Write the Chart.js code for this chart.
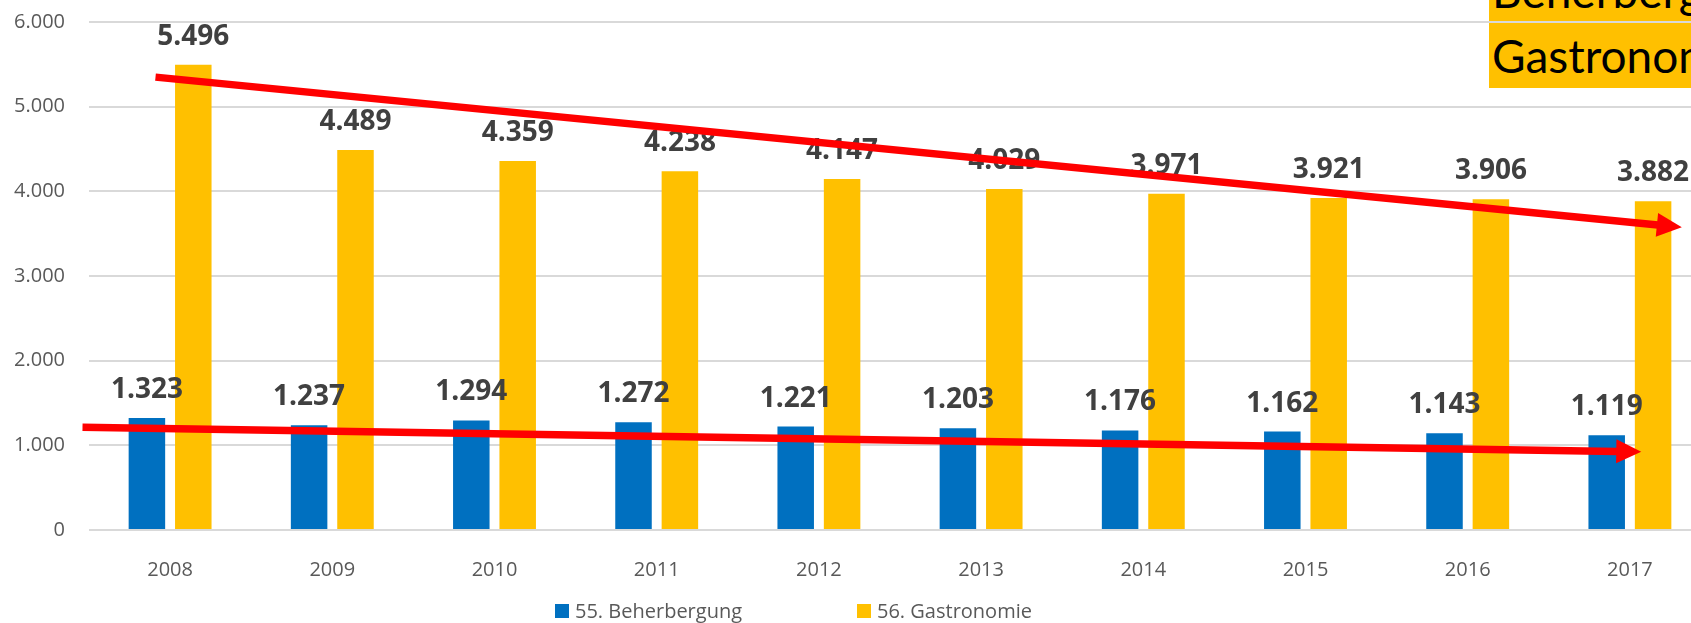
<!DOCTYPE html>
<html>
<head>
<meta charset="utf-8">
<script src="https://cdn.jsdelivr.net/npm/chart.js@4/dist/chart.umd.min.js"></script>
<style>
  html, body { margin: 0; padding: 0; background: #fff; overflow: hidden; width: 1691px; height: 623px; }
  #wrap { position: absolute; left: 0; top: -14px; width: 1720px; height: 637px; }
  .box { position: absolute; left: 1489px; width: 260px; background: #FFC000; color: #000;
         font-family: Lato, "Open Sans", sans-serif; font-size: 46px; white-space: nowrap; overflow: hidden; }
  #box1 { top: -40px; height: 61px; line-height: 61px; padding-left: 3px; box-sizing: border-box; }
  #box2 { top: 23px; height: 65px; line-height: 65px; padding-left: 3px; box-sizing: border-box; }
  .legend { position: absolute; top: 597px; font-family: "Open Sans", sans-serif; font-size: 20px; color: #595959;
            line-height: 28px; white-space: nowrap; }
  .legend i { position: absolute; left: 0; top: 7px; width: 14px; height: 14px; }
  .legend span { position: absolute; left: 20px; top: 0; }
</style>
</head>
<body>
<div id="wrap"><canvas id="chart" width="1720" height="637"></canvas></div>
<div class="box" id="box1">Beherbergung</div>
<div class="box" id="box2">Gastronomie</div>
<div class="legend" style="left:555px"><i style="background:#0070C0"></i><span>55. Beherbergung</span></div>
<div class="legend" style="left:857px"><i style="background:#FFC000"></i><span>56. Gastronomie</span></div>
<script>
/* Beherbergung / Gastronomie 2008–2017 — grouped bars with trend arrows */

const YEARS = ['2008', '2009', '2010', '2011', '2012', '2013', '2014', '2015', '2016', '2017'];
const BEHERBERGUNG = [1323, 1237, 1294, 1272, 1221, 1203, 1176, 1162, 1143, 1119];
const GASTRONOMIE = [5496, 4489, 4359, 4238, 4147, 4029, 3971, 3921, 3906, 3882];
const Y_TICKS = [0, 1000, 2000, 3000, 4000, 5000, 6000];

// trend arrows, in chart units (category index, value)
const TREND_GASTRO_X = [-0.09, 9.32];
const TREND_GASTRO_Y = [5349, 3575];
const TREND_BEHER_X = [-0.54, 9.07];
const TREND_BEHER_Y = [1215, 924];

const FONT = '"Open Sans", sans-serif';
const TICK = '#595959';
const GRID = '#d9d9d9';

const fmt = (v) => String(Math.round(v)).replace(/\B(?=(\d{3})+(?!\d))/g, '.');

const valueLabels = {
  id: 'valueLabels',
  afterDatasetsDraw(chart) {
    const ctx = chart.ctx;
    ctx.save();
    ctx.font = 'bold 28px ' + FONT;
    ctx.fillStyle = '#404040';
    ctx.textAlign = 'center';
    ctx.textBaseline = 'alphabetic';
    chart.data.datasets.forEach((ds, i) => {
      chart.getDatasetMeta(i).data.forEach((bar, j) => {
        ctx.fillText(fmt(ds.data[j]), bar.x, bar.y - 20);
      });
    });
    ctx.restore();
  },
};

function arrow(ctx, x1, y1, x2, y2) {
  const ang = Math.atan2(y2 - y1, x2 - x1);
  const head = 25, half = 12;
  const bx = x2 - head * Math.cos(ang), by = y2 - head * Math.sin(ang);
  ctx.beginPath();
  ctx.moveTo(x1, y1);
  ctx.lineTo(bx + Math.cos(ang), by + Math.sin(ang));
  ctx.stroke();
  ctx.beginPath();
  ctx.moveTo(x2, y2);
  ctx.lineTo(bx + half * Math.sin(ang), by - half * Math.cos(ang));
  ctx.lineTo(bx - half * Math.sin(ang), by + half * Math.cos(ang));
  ctx.closePath();
  ctx.fill();
}

const trendArrows = {
  id: 'trendArrows',
  afterDraw(chart) {
    const { ctx, scales: { x, y } } = chart;
    ctx.save();
    ctx.strokeStyle = '#FF0000';
    ctx.fillStyle = '#FF0000';
    ctx.lineWidth = 7.5;
    [[TREND_GASTRO_X, TREND_GASTRO_Y], [TREND_BEHER_X, TREND_BEHER_Y]].forEach(([xs, ys]) => {
      arrow(ctx, x.getPixelForValue(xs[0]), y.getPixelForValue(ys[0]),
                 x.getPixelForValue(xs[1]), y.getPixelForValue(ys[1]));
    });
    ctx.restore();
  },
};

new Chart(document.getElementById('chart'), {
  type: 'bar',
  data: {
    labels: YEARS,
    datasets: [
      { label: '55. Beherbergung', data: BEHERBERGUNG, backgroundColor: '#0070C0' },
      { label: '56. Gastronomie', data: GASTRONOMIE, backgroundColor: '#FFC000' },
    ],
  },
  options: {
    responsive: false,
    animation: false,
    categoryPercentage: 0.572,
    barPercentage: 0.787,
    layout: { padding: { left: 0, right: 9, top: 7, bottom: 0 } },
    plugins: { legend: { display: false }, tooltip: { enabled: false } },
    scales: {
      x: {
        grid: { display: false },
        border: { display: false },
        ticks: { color: TICK, font: { family: FONT, size: 20 }, padding: 20 },
        afterFit: (s) => { s.height = 93; },
      },
      y: {
        min: 0, max: 6000,
        afterBuildTicks: (s) => { s.ticks = Y_TICKS.map((v) => ({ value: v })); },
        grid: { color: GRID, lineWidth: 2, drawTicks: false },
        border: { display: false },
        ticks: { color: TICK, font: { family: FONT, size: 20 }, padding: 24, callback: (v) => fmt(v) },
        afterFit: (s) => { s.width = 89; },
      },
    },
  },
  plugins: [valueLabels, trendArrows],
});
</script>
</body>
</html>
